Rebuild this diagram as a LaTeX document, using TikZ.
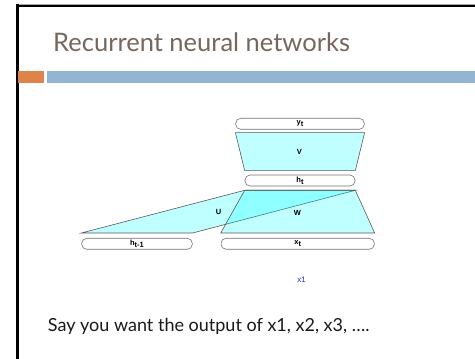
\documentclass[tikz,border=0pt]{standalone}
\usepackage{fontspec}
\setmainfont{Lato}
\newfontfamily\diagfont{Liberation Sans}
\usetikzlibrary{positioning,calc}
\definecolor{titlegray}{HTML}{76665E}
\definecolor{barorange}{HTML}{E0834A}
\definecolor{barblue}{HTML}{93B5D2}
\definecolor{xblue}{HTML}{2233E0}
\definecolor{layercyan}{rgb}{0,1,1}
\newcommand{\lsub}[1]{\raisebox{-1.8pt}{#1}}

\begin{document}
\begin{tikzpicture}[x=1pt,y=1pt,
  layer/.style={rectangle, draw=black!55, fill=white, line width=0.6pt, rounded corners=5pt, minimum height=11pt, inner sep=0pt, font=\diagfont\bfseries\fontsize{7.5}{7.5}\selectfont},
  weights/.style={draw=black!65, fill=layercyan, fill opacity=0.25, line width=0.6pt},
  wlabel/.style={font=\diagfont\bfseries\fontsize{7.5}{7.5}\selectfont}
]
\useasboundingbox (0,0) rectangle (475,359);
% slide frame
\draw[black!35, line width=1pt] (16,354.6) -- (475,354.6);
\draw[black, line width=2.2pt] (17.3,353.2) -- (475,353.2);
\draw[black, line width=3pt] (17.3,355) -- (17.3,0);
\fill[barorange] (18.3,276.3) rectangle (43.7,288);
\fill[barblue] (47,276.3) rectangle (475,288);
\node[anchor=base west, inner sep=0pt, text=titlegray, font=\fontsize{25.5}{25.5}\selectfont] (title) at (53,307.3) {Recurrent neural networks};

\node[layer, minimum width=128.6pt] (yt) at (300,235.2) {y\lsub{t}};
\node[layer, minimum width=110pt] (ht) at (300,178.5) {h\lsub{t}};
\node[layer, minimum width=110.6pt] (htm) at (137,115.2) {h\lsub{t-1}};
\node[layer, minimum width=153.3pt] (xt) at (297.7,115.2) {x\lsub{t}};

\draw[weights] ([yshift=-3]yt.south west) -- ([yshift=-3]yt.south east) -- ([yshift=4]ht.north east) -- ([yshift=4]ht.north west) -- cycle;
\draw[weights] ([yshift=5]htm.north west) -- ([yshift=5]htm.north east) -- ([yshift=-4]ht.south east) -- ([yshift=-4]ht.south west) -- cycle;
\draw[weights] ([yshift=-4]ht.south west) -- ([yshift=-4]ht.south east) -- ([yshift=5]xt.north east) -- ([yshift=5]xt.north west) -- cycle;

\node[wlabel] (v) at (299.3,207.3) {V};
\node[wlabel] (u) at (218.7,146.7) {U};
\node[wlabel] (w) at (297.3,145.7) {W};
\node[text=xblue, font=\diagfont\fontsize{8}{8}\selectfont] (x1) at (301.5,79.5) {x1};

\node[anchor=base west, inner sep=0pt, text=black!90, font=\fontsize{18}{18}\selectfont] (say) at (47.7,27.3) {Say you want the output of x1, x2, x3, ….};
\end{tikzpicture}
\end{document}
